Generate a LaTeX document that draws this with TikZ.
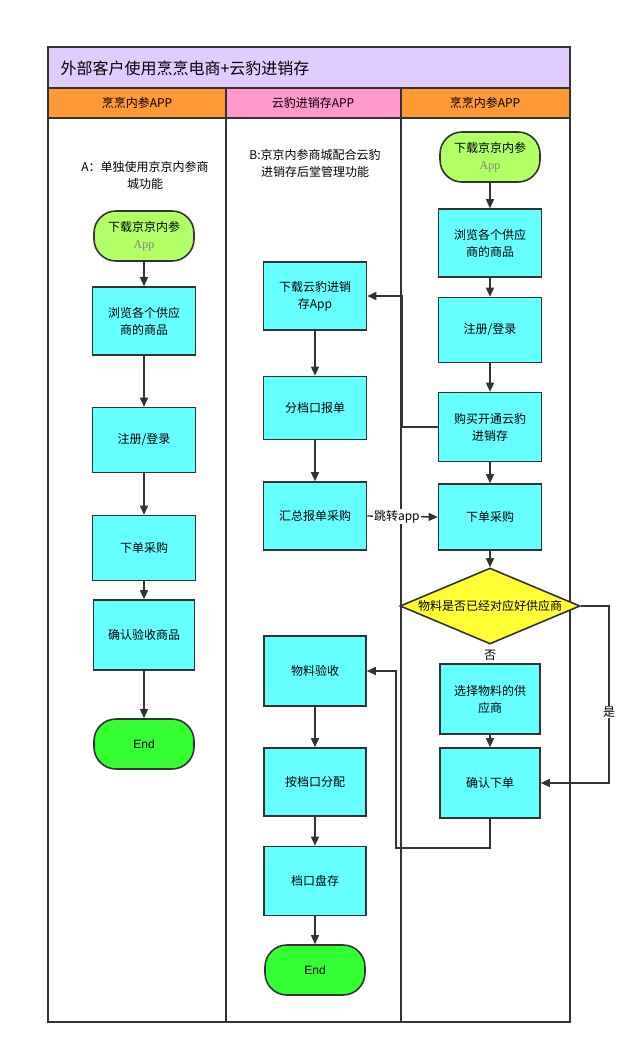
\documentclass[tikz,border=0pt]{standalone}
\usepackage{fontspec}
\setmainfont{Liberation Sans}
\newfontfamily\cjk{Noto Sans CJK SC}
\usetikzlibrary{shapes.geometric,arrows.meta}
\definecolor{boxcyan}{HTML}{66FFFF}
\definecolor{startgreen}{HTML}{B3FF66}
\definecolor{endgreen}{HTML}{33FF33}
\definecolor{decyellow}{HTML}{FFFF33}
\definecolor{titlepurple}{HTML}{E1CCFF}
\definecolor{laneorange}{HTML}{FF9933}
\definecolor{lanepink}{HTML}{FF99CC}
\definecolor{linegray}{HTML}{333333}
\tikzset{
  procbox/.style={draw=linegray, line width=1.6pt, fill=boxcyan, minimum width=103pt, minimum height=68pt, align=center, font=\cjk\fontsize{12}{17}\selectfont, text width=85pt, inner sep=0pt},
  term/.style={draw=linegray, line width=1.6pt, rounded corners=22pt, minimum width=100pt, minimum height=50pt, align=center, inner sep=0pt},
  flow/.style={draw=linegray, line width=1.4pt, -{Triangle[length=9pt,width=8pt]}},
  lbl/.style={font=\cjk\fontsize{12}{14}\selectfont, fill=white, inner sep=1pt}
}
\begin{document}
\begin{tikzpicture}[x=1pt,y=-1pt]
				% frame and lanes
				\useasboundingbox (0,0) rectangle (641,1055);
				\fill[titlepurple] (48,47) rectangle (570,88);
				\fill[laneorange] (48,88) rectangle (226,118);
				\fill[lanepink] (226,88) rectangle (401,118);
				\fill[laneorange] (401,88) rectangle (570,118);
				\draw[linegray, line width=1.6pt] (48,47) rectangle (570,1022);
				\draw[linegray, line width=1.6pt] (48,88) -- (570,88) (48,118) -- (570,118);
				\draw[linegray, line width=1.6pt] (226,88) -- (226,1022) (401,88) -- (401,1022);
				\node[anchor=west, font=\cjk\fontsize{16}{18}\selectfont] (title) at (57,68) {外部客户使用烹烹电商+云豹进销存};
				\node[font=\cjk\fontsize{12}{14}\selectfont] (laneA) at (137,103) {烹烹内参APP};
				\node[font=\cjk\fontsize{12}{14}\selectfont] (laneB) at (313,103) {云豹进销存APP};
				\node[font=\cjk\fontsize{12}{14}\selectfont] (laneC) at (485,103) {烹烹内参APP};
				% lane A
				\node[align=center, font=\cjk\fontsize{12}{17}\selectfont] (noteA) at (145,175) {A：单独使用京京内参商\\城功能};
				\node[term, fill=startgreen, font=\cjk\fontsize{12}{17}\selectfont] (startA) at (144,236) {下载京京内参\\\textcolor{gray}{\fontspec{Liberation Serif}App}};
				\node[procbox] (browseA) at (144,321) {浏览各个供应\\商的商品};
				\node[procbox, minimum height=65pt] (loginA) at (144,440) {注册/登录};
				\node[procbox, minimum height=65pt] (orderA) at (144,548) {下单采购};
				\node[procbox, minimum width=101pt, minimum height=70pt] (checkA) at (144,635) {确认验收商品};
				\node[term, fill=endgreen, font=\fontsize{12}{14}\selectfont] (endA) at (144,744) {End};
				\draw[flow] (startA) -- (browseA);
				\draw[flow] (browseA) -- (loginA);
				\draw[flow] (loginA) -- (orderA);
				\draw[flow] (orderA) -- (checkA);
				\draw[flow] (checkA) -- (endA);
				% lane B
				\node[align=center, font=\cjk\fontsize{12}{17}\selectfont] (noteB) at (315,163) {B:京京内参商城配合云豹\\进销存后堂管理功能};
				\node[procbox] (downB) at (315,296) {下载云豹进销\\存App};
				\node[procbox, minimum height=63pt] (splitB) at (315,408) {分档口报单};
				\node[procbox] (sumB) at (315,516) {汇总报单采购};
				\node[procbox, minimum width=102pt, minimum height=70pt] (recvB) at (315,671) {物料验收};
				\node[procbox, minimum width=102pt] (distB) at (315,782) {按档口分配};
				\node[procbox, minimum width=102pt, minimum height=69pt] (stockB) at (315,881) {档口盘存};
				\node[term, fill=endgreen, font=\fontsize{12}{14}\selectfont] (endB) at (315,970) {End};
				\draw[flow] (downB) -- (splitB);
				\draw[flow] (splitB) -- (sumB);
				\draw[flow] (recvB) -- (distB);
				\draw[flow] (distB) -- (stockB);
				\draw[flow] (stockB) -- (endB);
				% lane C
				\node[term, fill=startgreen, font=\cjk\fontsize{12}{17}\selectfont] (startC) at (490,157) {下载京京内参\\\textcolor{gray}{\fontspec{Liberation Serif}App}};
				\node[procbox] (browseC) at (490,243) {浏览各个供应\\商的商品};
				\node[procbox, minimum height=65pt] (loginC) at (490,330) {注册/登录};
				\node[procbox, minimum height=69pt] (buyC) at (490,427) {购买开通云豹\\进销存};
				\node[procbox, minimum height=66pt] (orderC) at (490,517) {下单采购};
				\node[diamond, draw=linegray, line width=1.6pt, fill=decyellow, minimum width=180pt, minimum height=76pt, inner sep=0pt, aspect=2.4, font=\cjk\fontsize{12}{14}\selectfont] (matchC) at (490,606) {物料是否已经对应好供应商};
				\node[procbox, minimum width=100pt, minimum height=70pt] (pickC) at (490,699) {选择物料的供\\应商};
				\node[procbox, minimum width=100pt, minimum height=70pt] (confirmC) at (490,783) {确认下单};
				\node[lbl] (noLbl) at (490,655) {否};
				\draw[flow] (startC) -- (browseC);
				\draw[flow] (browseC) -- (loginC);
				\draw[flow] (loginC) -- (buyC);
				\draw[flow] (buyC) -- (orderC);
				\draw[flow] (orderC) -- (matchC);
				\draw[flow] (pickC) -- (confirmC);
				\draw[flow] (matchC.east) -- (609,606) -- node[lbl, pos=0.6] {是} (609,783) -- (confirmC.east);
				% cross-lane links
				\draw[flow] (buyC.west) -- (402,427) -- (402,296) -- (downB.east);
				\draw[flow] (sumB.east) -- node[lbl, pos=0.42] {跳转app} (orderC.west);
				\draw[flow] (confirmC.south) -- (490,848) -- (396,848) -- (396,671) -- (recvB.east);
			\end{tikzpicture}
\end{document}
